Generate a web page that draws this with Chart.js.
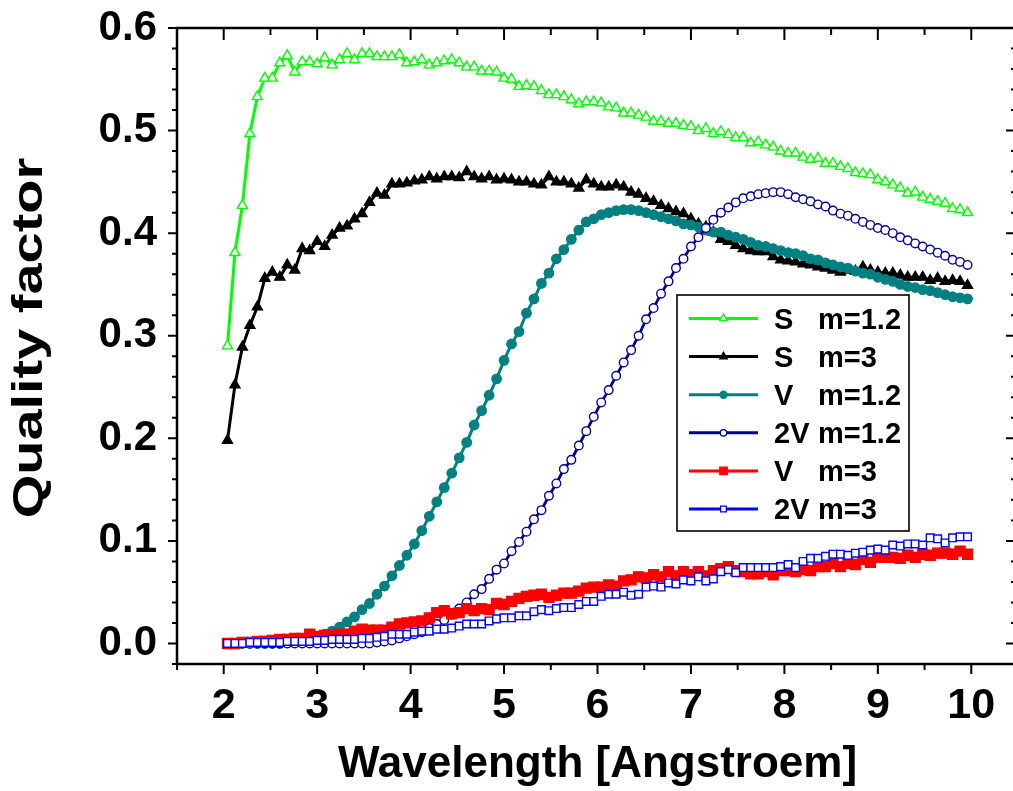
<!DOCTYPE html>
<html>
<head>
<meta charset="utf-8">
<title>Quality factor vs wavelength</title>
<script src="https://cdn.jsdelivr.net/npm/chart.js@4.4.1/dist/chart.umd.min.js"></script>
<style>
  html, body { margin: 0; padding: 0; background: #fff; overflow: hidden; }
  #wrap { position: relative; width: 1030px; height: 791px; }
</style>
</head>
<body>
<div id="wrap"><canvas id="qualityChart"></canvas></div>
<script>
// wavelength bin centres [Angstroem]
const wavelength = [
  2.04, 2.12, 2.20, 2.28, 2.36, 2.44, 2.52, 2.60, 2.68, 2.76,
  2.84, 2.92, 3.00, 3.08, 3.16, 3.24, 3.32, 3.40, 3.48, 3.56,
  3.64, 3.72, 3.80, 3.88, 3.96, 4.04, 4.12, 4.20, 4.28, 4.36,
  4.44, 4.52, 4.60, 4.68, 4.76, 4.84, 4.92, 5.00, 5.08, 5.16,
  5.24, 5.32, 5.40, 5.48, 5.56, 5.64, 5.72, 5.80, 5.88, 5.96,
  6.04, 6.12, 6.20, 6.28, 6.36, 6.44, 6.52, 6.60, 6.68, 6.76,
  6.84, 6.92, 7.00, 7.08, 7.16, 7.24, 7.32, 7.40, 7.48, 7.56,
  7.64, 7.72, 7.80, 7.88, 7.96, 8.04, 8.12, 8.20, 8.28, 8.36,
  8.44, 8.52, 8.60, 8.68, 8.76, 8.84, 8.92, 9.00, 9.08, 9.16,
  9.24, 9.32, 9.40, 9.48, 9.56, 9.64, 9.72, 9.80, 9.88, 9.96
];

const sM12 = [
  0.290, 0.381, 0.427, 0.497, 0.533, 0.551, 0.551, 0.566, 0.573, 0.557,
  0.567, 0.567, 0.565, 0.571, 0.564, 0.569, 0.575, 0.569, 0.575, 0.575,
  0.572, 0.572, 0.572, 0.574, 0.566, 0.567, 0.569, 0.564, 0.566, 0.568,
  0.569, 0.566, 0.562, 0.562, 0.558, 0.558, 0.557, 0.551, 0.550, 0.543,
  0.544, 0.543, 0.539, 0.535, 0.535, 0.533, 0.530, 0.526, 0.528, 0.528,
  0.527, 0.523, 0.522, 0.517, 0.517, 0.515, 0.513, 0.509, 0.509, 0.507,
  0.507, 0.505, 0.504, 0.500, 0.502, 0.497, 0.499, 0.496, 0.493, 0.493,
  0.488, 0.489, 0.486, 0.484, 0.480, 0.478, 0.478, 0.474, 0.472, 0.473,
  0.468, 0.468, 0.465, 0.463, 0.459, 0.458, 0.457, 0.452, 0.450, 0.447,
  0.444, 0.439, 0.440, 0.435, 0.433, 0.431, 0.429, 0.424, 0.423, 0.420
];

const sM3 = [
  0.198, 0.252, 0.289, 0.310, 0.328, 0.356, 0.362, 0.357, 0.369, 0.364,
  0.385, 0.383, 0.392, 0.387, 0.398, 0.405, 0.407, 0.414, 0.419, 0.430,
  0.439, 0.437, 0.448, 0.448, 0.449, 0.451, 0.452, 0.455, 0.453, 0.455,
  0.455, 0.454, 0.460, 0.455, 0.453, 0.455, 0.452, 0.453, 0.452, 0.450,
  0.450, 0.448, 0.447, 0.455, 0.450, 0.450, 0.448, 0.444, 0.452, 0.448,
  0.445, 0.445, 0.447, 0.445, 0.440, 0.438, 0.434, 0.431, 0.427, 0.424,
  0.421, 0.419, 0.414, 0.409, 0.406, 0.401, 0.394, 0.392, 0.388, 0.385,
  0.383, 0.382, 0.382, 0.377, 0.374, 0.373, 0.372, 0.370, 0.369, 0.367,
  0.366, 0.364, 0.362, 0.364, 0.363, 0.367, 0.364, 0.362, 0.361, 0.361,
  0.359, 0.357, 0.357, 0.357, 0.354, 0.356, 0.353, 0.354, 0.353, 0.349
];

const vM12 = [
  0.000, 0.000, 0.000, 0.000, 0.000, 0.000, 0.000, 0.000, 0.001, 0.001,
  0.002, 0.004, 0.006, 0.009, 0.012, 0.016, 0.021, 0.026, 0.033, 0.039,
  0.048, 0.056, 0.066, 0.076, 0.086, 0.097, 0.110, 0.124, 0.138, 0.152,
  0.166, 0.181, 0.196, 0.213, 0.227, 0.242, 0.258, 0.276, 0.292, 0.304,
  0.322, 0.336, 0.351, 0.361, 0.375, 0.384, 0.394, 0.403, 0.411, 0.414,
  0.418, 0.420, 0.422, 0.423, 0.423, 0.422, 0.420, 0.418, 0.416, 0.414,
  0.412, 0.409, 0.408, 0.406, 0.403, 0.401, 0.401, 0.398, 0.396, 0.394,
  0.391, 0.388, 0.387, 0.385, 0.383, 0.381, 0.380, 0.378, 0.375, 0.374,
  0.371, 0.369, 0.367, 0.366, 0.363, 0.361, 0.360, 0.357, 0.355, 0.353,
  0.350, 0.348, 0.347, 0.345, 0.344, 0.342, 0.340, 0.338, 0.337, 0.336
];

const v2M12 = [
  0.000, 0.000, 0.000, 0.000, 0.000, 0.000, 0.000, 0.000, 0.000, 0.000,
  0.000, 0.000, 0.000, 0.000, 0.000, 0.000, 0.000, 0.000, 0.000, 0.000,
  0.001, 0.002, 0.003, 0.005, 0.007, 0.009, 0.011, 0.015, 0.019, 0.023,
  0.028, 0.034, 0.040, 0.048, 0.053, 0.063, 0.072, 0.078, 0.090, 0.099,
  0.109, 0.121, 0.130, 0.144, 0.156, 0.170, 0.179, 0.193, 0.207, 0.221,
  0.235, 0.247, 0.261, 0.274, 0.286, 0.300, 0.316, 0.327, 0.341, 0.353,
  0.366, 0.375, 0.387, 0.396, 0.405, 0.413, 0.420, 0.425, 0.430, 0.434,
  0.436, 0.438, 0.439, 0.440, 0.440, 0.438, 0.435, 0.433, 0.431, 0.428,
  0.426, 0.422, 0.419, 0.417, 0.414, 0.411, 0.408, 0.405, 0.403, 0.400,
  0.396, 0.393, 0.390, 0.387, 0.384, 0.381, 0.378, 0.374, 0.372, 0.369
];

const vM3 = [
  0.000, 0.000, 0.001, 0.001, 0.002, 0.002, 0.003, 0.004, 0.004, 0.005,
  0.005, 0.009, 0.007, 0.008, 0.008, 0.009, 0.009, 0.012, 0.014, 0.013,
  0.013, 0.013, 0.016, 0.019, 0.020, 0.021, 0.022, 0.025, 0.030, 0.032,
  0.029, 0.030, 0.034, 0.032, 0.034, 0.033, 0.039, 0.038, 0.041, 0.044,
  0.046, 0.047, 0.048, 0.045, 0.047, 0.049, 0.049, 0.051, 0.054, 0.055,
  0.055, 0.057, 0.056, 0.061, 0.062, 0.065, 0.064, 0.067, 0.065, 0.070,
  0.066, 0.070, 0.067, 0.070, 0.066, 0.071, 0.073, 0.075, 0.071, 0.070,
  0.068, 0.068, 0.070, 0.067, 0.071, 0.071, 0.070, 0.072, 0.071, 0.075,
  0.075, 0.078, 0.075, 0.078, 0.077, 0.082, 0.079, 0.084, 0.084, 0.084,
  0.083, 0.086, 0.084, 0.087, 0.086, 0.088, 0.088, 0.087, 0.090, 0.087
];

const v2M3 = [
  0.000, 0.000, 0.000, 0.001, 0.001, 0.001, 0.001, 0.001, 0.002, 0.002,
  0.002, 0.002, 0.003, 0.003, 0.004, 0.004, 0.004, 0.004, 0.005, 0.005,
  0.006, 0.007, 0.009, 0.009, 0.009, 0.011, 0.012, 0.012, 0.014, 0.014,
  0.015, 0.017, 0.019, 0.019, 0.019, 0.022, 0.024, 0.025, 0.025, 0.027,
  0.027, 0.031, 0.033, 0.032, 0.034, 0.035, 0.035, 0.038, 0.041, 0.041,
  0.046, 0.048, 0.048, 0.050, 0.047, 0.048, 0.055, 0.056, 0.055, 0.059,
  0.058, 0.062, 0.061, 0.065, 0.061, 0.063, 0.070, 0.072, 0.069, 0.074,
  0.074, 0.074, 0.074, 0.074, 0.075, 0.077, 0.074, 0.080, 0.083, 0.083,
  0.085, 0.087, 0.087, 0.086, 0.088, 0.089, 0.091, 0.092, 0.091, 0.096,
  0.095, 0.097, 0.097, 0.096, 0.103, 0.102, 0.098, 0.103, 0.104, 0.104
];

const seriesType = ['S', 'S', 'V', '2V', 'V', '2V'];
const seriesM = ['1.2', '3', '1.2', '1.2', '3', '3'];
const seriesValues = [sM12, sM3, vM12, v2M12, vM3, v2M3];

const xTickLabels = [2, 3, 4, 5, 6, 7, 8, 9, 10];
const yTickLabels = [0.0, 0.1, 0.2, 0.3, 0.4, 0.5, 0.6];

// look of each series (Origin style)
const styles = [
  { color: '#00ff00', point: 'triangle', fill: '#ffffff', radius: 5.8, line: 3 },
  { color: '#000000', point: 'triangle', fill: '#000000', radius: 5.8, line: 3 },
  { color: '#008080', point: 'circle', fill: '#008080', radius: 4.7, line: 3 },
  { color: '#000090', point: 'circle', fill: '#ffffff', radius: 4.3, line: 2.8 },
  { color: '#ff0000', point: 'rect', fill: '#ff0000', radius: 7, line: 3 },
  { color: '#0000ff', point: 'rect', fill: '#ffffff', radius: 5.4, line: 2.4 }
];

const FONT = '"Liberation Sans", Arial, Helvetica, sans-serif';

const datasets = seriesValues.map((vals, i) => ({
  label: seriesType[i] + ' m=' + seriesM[i],
  data: wavelength.map((w, k) => ({ x: w, y: vals[k] })),
  borderColor: styles[i].color,
  borderWidth: styles[i].line,
  pointStyle: styles[i].point,
  pointRadius: styles[i].radius,
  pointBackgroundColor: styles[i].fill,
  pointBorderColor: styles[i].color,
  pointBorderWidth: 1.4,
  tension: 0,
  fill: false,
  order: seriesValues.length - i // later series on top
}));

function drawMarker(ctx, style, x, y, r) {
  ctx.beginPath();
  if (style === 'triangle') {
    ctx.moveTo(x, y - r);
    ctx.lineTo(x + Math.sin(2 * Math.PI / 3) * r, y + r / 2);
    ctx.lineTo(x - Math.sin(2 * Math.PI / 3) * r, y + r / 2);
    ctx.closePath();
  } else if (style === 'circle') {
    ctx.arc(x, y, r, 0, Math.PI * 2);
  } else {
    const s = r * Math.SQRT1_2;
    ctx.rect(x - s, y - s, 2 * s, 2 * s);
  }
  ctx.fill();
  ctx.stroke();
}

const legendBox = {
  id: 'legendBox',
  afterDatasetsDraw(chart) {
    const { ctx } = chart;
    const left = 677, top = 295, right = 909, bottom = 531;
    ctx.save();
    ctx.fillStyle = '#fff';
    ctx.fillRect(left, top, right - left, bottom - top);
    ctx.strokeStyle = '#000';
    ctx.lineWidth = 1.6;
    ctx.strokeRect(left, top, right - left, bottom - top);
    datasets.forEach((ds, i) => {
      const yy = 318.5 + i * 38.1;
      const st = styles[i];
      ctx.strokeStyle = st.color;
      ctx.lineWidth = 3;
      ctx.beginPath();
      ctx.moveTo(689, yy);
      ctx.lineTo(758, yy);
      ctx.stroke();
      ctx.fillStyle = st.fill;
      ctx.lineWidth = 1.3;
      drawMarker(ctx, st.point, 723.5, yy, st.radius * 0.75);
      ctx.fillStyle = '#000';
      ctx.font = 'bold 29px ' + FONT;
      ctx.textBaseline = 'middle';
      ctx.textAlign = 'left';
      ctx.fillText(seriesType[i], 774, yy + 2);
      ctx.fillText('m=' + seriesM[i], 818, yy + 2);
    });
    ctx.restore();
  }
};

const axisFrame = {
  id: 'axisFrame',
  afterDraw(chart) {
    const { ctx, chartArea: a, scales: { x, y } } = chart;
    ctx.save();
    ctx.strokeStyle = '#000';
    ctx.lineWidth = 2;
    ctx.beginPath();
    for (let v = 1.5; v <= 10.5001; v += 0.5) {
      const px = x.getPixelForValue(v);
      const major = Math.abs(v - Math.round(v)) < 1e-6;
      ctx.moveTo(px, a.bottom);
      ctx.lineTo(px, a.bottom + (major ? 10 : 6));
      ctx.moveTo(px, a.top);
      ctx.lineTo(px, a.top + (major ? 12 : 7));
    }
    for (let n = -1; n <= 30; n++) {
      const v = n * 0.02;
      const py = y.getPixelForValue(v);
      const major = n % 5 === 0;
      ctx.moveTo(a.left, py);
      ctx.lineTo(a.left - (major ? 9 : 5), py);
      ctx.moveTo(a.right, py);
      ctx.lineTo(a.right - (major ? 12 : 7), py);
    }
    ctx.stroke();
    ctx.lineWidth = 2.5;
    ctx.strokeRect(a.left, a.top, a.right - a.left, a.bottom - a.top);

    // y axis title, stretched along its length like the original
    ctx.translate(30, 338);
    ctx.rotate(-Math.PI / 2);
    ctx.scale(1.3, 1);
    ctx.font = 'bold 43px ' + FONT;
    ctx.fillStyle = '#000';
    ctx.textAlign = 'center';
    ctx.textBaseline = 'middle';
    ctx.fillText('Quality factor', 0, 0);
    ctx.restore();
  }
};

new Chart(document.getElementById('qualityChart'), {
  type: 'line',
  data: { datasets: datasets },
  options: {
    responsive: true,
    maintainAspectRatio: false,
    animation: false,
    layout: { padding: { left: 0, top: 28, right: 12, bottom: 0 } },
    plugins: {
      legend: { display: false },
      tooltip: { enabled: false }
    },
    scales: {
      x: {
        type: 'linear',
        min: 1.5,
        max: 10.5,
        afterFit: s => { s.height = 127; s.paddingLeft = 0; s.paddingRight = 0; },
        afterBuildTicks: s => { s.ticks = xTickLabels.map(v => ({ value: v })); },
        grid: { display: false, drawTicks: false },
        border: { display: false },
        ticks: {
          color: '#000',
          font: { family: FONT, size: 43, weight: 'bold' },
          padding: 16,
          maxRotation: 0,
          autoSkip: false,
          callback: v => String(v)
        },
        title: {
          display: true,
          text: 'Wavelength [Angstroem]',
          color: '#000',
          font: { family: FONT, size: 44, weight: 'bold' },
          padding: { top: 3, bottom: 0 }
        }
      },
      y: {
        min: -0.02,
        max: 0.6,
        afterFit: s => { s.width = 177; s.paddingTop = 0; s.paddingBottom = 0; },
        afterBuildTicks: s => { s.ticks = yTickLabels.map(v => ({ value: v })); },
        grid: { display: false, drawTicks: false },
        border: { display: false },
        ticks: {
          color: '#000',
          font: { family: FONT, size: 42, weight: 'bold' },
          padding: 20,
          autoSkip: false,
          callback: v => v.toFixed(1)
        }
      }
    }
  },
  plugins: [legendBox, axisFrame]
});
</script>
</body>
</html>
